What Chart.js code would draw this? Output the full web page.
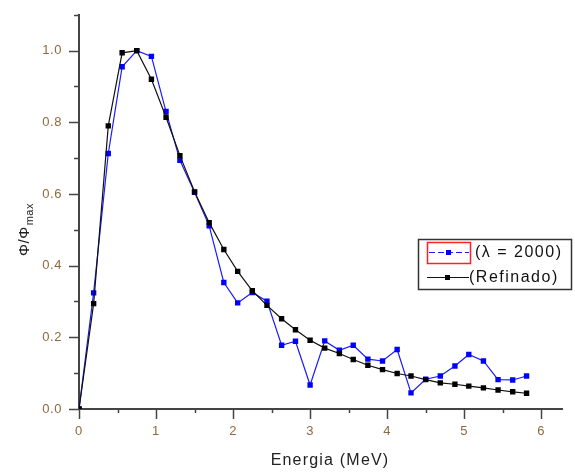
<!DOCTYPE html>
<html>
<head>
<meta charset="utf-8">
<script src="https://cdn.jsdelivr.net/npm/chart.js@4/dist/chart.umd.min.js"></script>
<style>
  body { margin: 0; background: #fff; }
  #chart { display: block; }
</style>
</head>
<body>
<canvas id="chart" width="575" height="472"></canvas>
<script>
// Energy grid (MeV)
const energia = [0, 0.19, 0.38, 0.56, 0.75, 0.94, 1.13, 1.31, 1.50, 1.69, 1.88, 2.06, 2.25, 2.44, 2.63, 2.81,
  3.00, 3.19, 3.38, 3.56, 3.75, 3.94, 4.13, 4.31, 4.50, 4.69, 4.88, 5.06, 5.25, 5.44, 5.63, 5.81];
// (lambda = 2000), blue
const lambda2000 = [0, 0.324, 0.713, 0.955, 1.0, 0.984, 0.830, 0.694, 0.605, 0.511, 0.353, 0.296, 0.325, 0.301, 0.178, 0.189,
  0.067, 0.190, 0.164, 0.178, 0.139, 0.134, 0.166, 0.045, 0.083, 0.092, 0.120, 0.152, 0.134, 0.082, 0.081, 0.092];
// (Refinado), black
const refinado = [0, 0.294, 0.790, 0.994, 1.0, 0.920, 0.814, 0.707, 0.606, 0.520, 0.445, 0.384, 0.330, 0.289, 0.252, 0.221,
  0.192, 0.170, 0.155, 0.138, 0.122, 0.110, 0.099, 0.092, 0.082, 0.073, 0.069, 0.064, 0.059, 0.053, 0.048, 0.044];
const seriesNames = ['(\u03bb = 2000)', '(Refinado)'];
const xTitle = 'Energia (MeV)';

const FONT = '"Liberation Sans", Arial, sans-serif';
const AXIS = '#444';
const TICK_TXT = '#8c6a3f';

// ticks, axis titles and legend, Origin style
const decor = {
  id: 'decor',
  beforeUpdate(chart) { chart.ctx.letterSpacing = '0.6px'; },
  beforeDraw(chart) { chart.ctx.letterSpacing = '0.6px'; },
  afterDraw(chart) {
    const { ctx, chartArea: a, scales: { x, y } } = chart;
    ctx.save();
    ctx.strokeStyle = AXIS;
    ctx.lineWidth = 1.5;
    x.ticks.forEach(t => {
      const px = Math.round(x.getPixelForValue(t.value)) + 0.5;
      const len = Math.abs(t.value - Math.round(t.value)) < 1e-6 ? 10 : 4;
      ctx.beginPath(); ctx.moveTo(px, a.bottom); ctx.lineTo(px, a.bottom + len); ctx.stroke();
    });
    y.ticks.forEach(t => {
      const py = Math.round(y.getPixelForValue(t.value)) + 0.5;
      const len = Math.round(t.value * 10) % 2 === 0 ? 10 : 5;
      ctx.beginPath(); ctx.moveTo(a.left, py); ctx.lineTo(a.left - len, py); ctx.stroke();
    });

    // x title
    ctx.fillStyle = '#222';
    ctx.letterSpacing = '1.2px';
    ctx.font = '16px ' + FONT;
    ctx.textAlign = 'center';
    ctx.textBaseline = 'middle';
    ctx.fillText(xTitle, 330, 461);

    // y title with subscript
    ctx.save();
    ctx.translate(24, 230);
    ctx.rotate(-Math.PI / 2);
    ctx.textAlign = 'left';
    ctx.textBaseline = 'alphabetic';
    ctx.letterSpacing = '0.5px';
    ctx.font = '15px ' + FONT;
    const main = '\u03a6/\u03a6';
    const w1 = ctx.measureText(main).width;
    ctx.font = '11px ' + FONT;
    const w2 = ctx.measureText('max').width;
    const x0 = -(w1 + w2) / 2;
    ctx.font = '15px ' + FONT;
    ctx.fillText(main, x0, 5);
    ctx.font = '11px ' + FONT;
    ctx.fillText('max', x0 + w1 + 1, 9);
    ctx.restore();

    // legend
    ctx.lineWidth = 1.5;
    ctx.strokeStyle = '#333';
    ctx.strokeRect(418.5, 239.5, 153, 50);
    ctx.strokeStyle = '#ff2020';
    ctx.strokeRect(427.5, 242.5, 43, 21);
    ctx.lineWidth = 1.2;
    ctx.strokeStyle = '#1a1aff';
    ctx.setLineDash([6, 3]);
    ctx.beginPath(); ctx.moveTo(429, 252.5); ctx.lineTo(469, 252.5); ctx.stroke();
    ctx.setLineDash([]);
    ctx.fillStyle = '#0000ff';
    ctx.fillRect(446, 250, 5, 5);
    ctx.strokeStyle = '#111';
    ctx.beginPath(); ctx.moveTo(427, 277.5); ctx.lineTo(469, 277.5); ctx.stroke();
    ctx.fillStyle = '#000';
    ctx.fillRect(445, 275, 5, 5);
    ctx.fillStyle = '#111';
    ctx.letterSpacing = '1.5px';
    ctx.font = '16px ' + FONT;
    ctx.textAlign = 'left';
    ctx.textBaseline = 'middle';
    ctx.fillText(seriesNames[0], 475, 253);
    ctx.fillText(seriesNames[1], 469, 278);
    ctx.restore();
  }
};

const ctx = document.getElementById('chart').getContext('2d');
new Chart(ctx, {
  type: 'line',
  data: {
    labels: energia,
    datasets: [
      {
        label: seriesNames[0],
        data: energia.map((e, i) => ({ x: e, y: lambda2000[i] })),
        borderColor: '#1a1aff',
        backgroundColor: '#0000ff',
        borderWidth: 1.2,
        pointStyle: 'rect',
        pointRadius: 3.8,
        pointBorderWidth: 0,
        tension: 0,
        order: 1
      },
      {
        label: seriesNames[1],
        data: energia.map((e, i) => ({ x: e, y: refinado[i] })),
        borderColor: '#111',
        backgroundColor: '#000',
        borderWidth: 1.2,
        pointStyle: 'rect',
        pointRadius: 3.8,
        pointBorderWidth: 0,
        tension: 0,
        order: 0
      }
    ]
  },
  options: {
    responsive: false,
    animation: false,
    layout: { padding: { left: 0, top: 11, right: 13, bottom: 0 } },
    plugins: {
      legend: { display: false },
      tooltip: { enabled: false }
    },
    scales: {
      x: {
        type: 'linear',
        min: 0,
        max: 6.27,
        grid: { display: false, drawTicks: true, tickLength: 10 },
        border: { display: true, color: AXIS, width: 2 },
        ticks: {
          stepSize: 0.5,
          autoSkip: false,
          includeBounds: false,
          maxRotation: 0,
          padding: 5,
          color: TICK_TXT,
          font: { family: FONT, size: 13 },
          callback: v => Math.abs(v - Math.round(v)) < 1e-6 ? String(Math.round(v)) : ''
        },
        afterFit: s => { s.height = 63; }
      },
      y: {
        min: 0,
        max: 1.1,
        grid: { display: false, drawTicks: true, tickLength: 10 },
        border: { display: true, color: AXIS, width: 2 },
        ticks: {
          stepSize: 0.1,
          autoSkip: false,
          includeBounds: false,
          padding: 7,
          color: TICK_TXT,
          font: { family: FONT, size: 13 },
          callback: v => Math.round(v * 10) % 2 === 0 ? v.toFixed(1) : ''
        },
        afterFit: s => { s.width = 79; }
      }
    }
  },
  plugins: [decor]
});
</script>
</body>
</html>
